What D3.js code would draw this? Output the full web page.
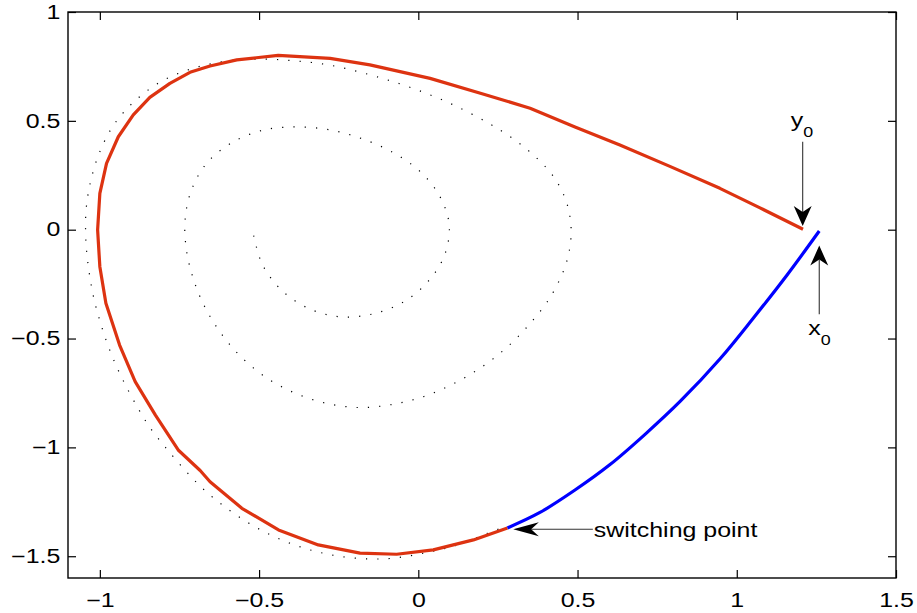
<!DOCTYPE html>
<html>
<head>
<meta charset="utf-8">
<script src="https://cdn.jsdelivr.net/npm/d3@7"></script>
<style>
  body { margin: 0; background: #fff; }
  text { font-family: "Liberation Sans", Arial, sans-serif; fill: #000; }
</style>
</head>
<body>
<div id="chart"></div>
<script>
// axis setup
const xDomain = [-1.1, 1.5];
const yDomain = [-1.6, 1];
const xTicks = [-1, -0.5, 0, 0.5, 1, 1.5];
const yTicks = [-1.5, -1, -0.5, 0, 0.5, 1];

// dotted spiral (free trajectory)
const spiralX = [-0.517, -0.490, -0.432, -0.347, -0.246, -0.140, -0.043, 0.034, 0.083, 0.097,
  0.068, 0.008, -0.075, -0.171, -0.272, -0.380, -0.485, -0.584, -0.663, -0.711,
  -0.732, -0.729, -0.708, -0.673, -0.623, -0.560, -0.482, -0.393, -0.293, -0.186,
  -0.079, 0.024, 0.119, 0.207, 0.286, 0.355, 0.414, 0.457, 0.474, 0.480,
  0.473, 0.453, 0.420, 0.376, 0.325, 0.269, 0.210, 0.118, 0.022, -0.079,
  -0.181, -0.286, -0.391, -0.498, -0.605, -0.710, -0.806, -0.889, -0.955, -0.999,
  -1.028, -1.043, -1.044, -1.035, -1.019, -0.994, -0.962, -0.923, -0.877, -0.843,
  -0.795, -0.733, -0.671, -0.591, -0.504, -0.411, -0.311, -0.204, -0.096, 0.009,
  0.114, 0.217, 0.278];
const spiralY = [-0.027, -0.159, -0.274, -0.360, -0.400, -0.386, -0.329, -0.232, -0.115, 0.022,
  0.152, 0.264, 0.351, 0.415, 0.457, 0.472, 0.458, 0.401, 0.308, 0.187,
  0.052, -0.083, -0.219, -0.347, -0.469, -0.579, -0.675, -0.747, -0.796, -0.817,
  -0.802, -0.763, -0.701, -0.623, -0.530, -0.424, -0.311, -0.185, -0.098, -0.006,
  0.085, 0.172, 0.253, 0.323, 0.388, 0.446, 0.498, 0.568, 0.628, 0.680,
  0.723, 0.758, 0.776, 0.784, 0.774, 0.740, 0.682, 0.593, 0.484, 0.362,
  0.228, 0.094, -0.043, -0.181, -0.314, -0.447, -0.579, -0.704, -0.828, -0.908,
  -0.998, -1.104, -1.197, -1.291, -1.372, -1.436, -1.482, -1.508, -1.511, -1.488,
  -1.452, -1.395, -1.361];

// red trajectory from y0 to the switching point
const redX = [1.208, 1.073, 0.947, 0.790, 0.633, 0.492, 0.351, 0.195, 0.037, -0.152,
  -0.277, -0.440, -0.570, -0.654, -0.717, -0.780, -0.843, -0.895, -0.942, -0.979,
  -1.000, -1.007, -1.000, -0.981, -0.938, -0.889, -0.826, -0.754, -0.685, -0.654,
  -0.554, -0.439, -0.314, -0.183, -0.068, 0.047, 0.173, 0.280];
const redY = [0.002, 0.100, 0.190, 0.291, 0.389, 0.472, 0.558, 0.627, 0.695, 0.757,
  0.787, 0.801, 0.780, 0.752, 0.723, 0.672, 0.608, 0.527, 0.427, 0.305,
  0.167, -0.001, -0.170, -0.338, -0.530, -0.698, -0.851, -1.012, -1.106, -1.158,
  -1.280, -1.379, -1.448, -1.486, -1.491, -1.471, -1.425, -1.370];

// blue trajectory from switching point to x0
const blueX = [0.280, 0.382, 0.492, 0.602, 0.712, 0.822, 0.947, 1.051, 1.158, 1.259];
const blueY = [-1.370, -1.299, -1.196, -1.079, -0.940, -0.789, -0.594, -0.408, -0.208, -0.006];

// annotations: arrow start and tip in data units
const arrowFrom = [[1.207, 0.404], [1.259, -0.389], [0.548, -1.376]];
const arrowTo = [[1.207, 0.017], [1.259, -0.073], [0.298, -1.376]];

const W = 917, H = 613;
const sx = 1.28; // horizontal stretch of the original figure
const fs = 19.5;

const x = d3.scaleLinear().domain(xDomain).range([68, 896]);
const y = d3.scaleLinear().domain(yDomain).range([578, 12]);

const svg = d3.select('#chart').append('svg')
  .attr('width', W)
  .attr('height', H);

const fmt = d => d < 0 ? '\u2212' + Math.abs(d) : String(d);

// axes, ticks pointing inward
const gx = svg.append('g')
  .attr('transform', `translate(0,${y.range()[0]})`)
  .call(d3.axisBottom(x).tickValues(xTicks).tickFormat(fmt)
    .tickSizeInner(-8).tickSizeOuter(0).tickPadding(15));
const gy = svg.append('g')
  .attr('transform', `translate(${x.range()[0]},0)`)
  .call(d3.axisLeft(y).tickValues(yTicks).tickFormat(fmt)
    .tickSizeInner(-8).tickSizeOuter(0).tickPadding(6));
svg.append('g')
  .attr('transform', `translate(0,${y.range()[1]})`)
  .call(d3.axisTop(x).tickValues(xTicks).tickFormat('')
    .tickSizeInner(-8).tickSizeOuter(0));
svg.append('g')
  .attr('transform', `translate(${x.range()[1]},0)`)
  .call(d3.axisRight(y).tickValues(yTicks).tickFormat('')
    .tickSizeInner(-8).tickSizeOuter(0));

svg.selectAll('.domain').remove();
svg.selectAll('.tick line').attr('stroke', '#000').attr('stroke-width', 1.2);
svg.selectAll('.tick text')
  .attr('font-size', fs)
  .attr('font-family', '"Liberation Sans", Arial, sans-serif')
  .attr('fill', '#000');
gx.selectAll('.tick text').attr('transform', `scale(${sx},1)`);
gy.selectAll('.tick text').attr('transform', `scale(${sx},1)`);

svg.append('rect')
  .attr('x', x.range()[0]).attr('y', y.range()[1])
  .attr('width', x.range()[1] - x.range()[0])
  .attr('height', y.range()[0] - y.range()[1])
  .attr('fill', 'none').attr('stroke', '#000').attr('stroke-width', 1.4);

// curves
const spiral = spiralX.map((v, i) => [v, spiralY[i]]);
const red = redX.map((v, i) => [v, redY[i]]);
const blue = blueX.map((v, i) => [v, blueY[i]]);

const smooth = d3.line().x(d => x(d[0])).y(d => y(d[1])).curve(d3.curveCatmullRom);
const straight = d3.line().x(d => x(d[0])).y(d => y(d[1]));

svg.append('path')
  .attr('d', smooth(spiral))
  .attr('fill', 'none')
  .attr('stroke', '#000')
  .attr('stroke-width', 1.2)
  .attr('stroke-dasharray', '1.2,10.1');

svg.append('path')
  .attr('d', straight(red))
  .attr('fill', 'none')
  .attr('stroke', '#dd3311')
  .attr('stroke-width', 3.2)
  .attr('stroke-linejoin', 'round');

svg.append('path')
  .attr('d', smooth(blue))
  .attr('fill', 'none')
  .attr('stroke', '#0000ff')
  .attr('stroke-width', 3.2)
  .attr('stroke-linejoin', 'round');

// arrows (matlab style head with a notch)
function arrow(from, to) {
  const S = [x(from[0]), y(from[1])];
  const T = [x(to[0]), y(to[1])];
  let dx = (T[0] - S[0]) / sx, dy = T[1] - S[1];
  const len = Math.hypot(dx, dy);
  const ux = dx / len, uy = dy / len;
  const nx = -uy, ny = ux;
  const L = 20, Wh = 7, N = 14;
  const p = (a, b) => [T[0] + a * sx, T[1] + b];
  const b1 = p(-ux * L + nx * Wh, -uy * L + ny * Wh);
  const b2 = p(-ux * L - nx * Wh, -uy * L - ny * Wh);
  const nt = p(-ux * N, -uy * N);
  svg.append('line')
    .attr('x1', S[0]).attr('y1', S[1])
    .attr('x2', nt[0]).attr('y2', nt[1])
    .attr('stroke', '#333').attr('stroke-width', 1.1);
  svg.append('path')
    .attr('d', `M${T[0]},${T[1]}L${b1[0]},${b1[1]}L${nt[0]},${nt[1]}L${b2[0]},${b2[1]}Z`)
    .attr('fill', '#000');
}
arrowFrom.forEach((f, i) => arrow(f, arrowTo[i]));

// labels
function label(px, py, main, sub) {
  const t = svg.append('text')
    .attr('transform', `translate(${px},${py}) scale(${sx},1)`)
    .attr('font-size', fs);
  t.append('tspan').text(main);
  if (sub) {
    t.append('tspan').attr('font-size', 14).attr('dy', 10).text(sub);
  }
}
const a0 = arrowFrom[0], a1 = arrowFrom[1], a2 = arrowFrom[2];
label(x(a0[0]) - 12, y(a0[1]) - 15, 'y', '0');
label(x(a1[0]) - 11, y(a1[1]) + 21, 'x', '0');
label(x(a2[0]) + 1, y(a2[1]) + 8, 'switching point');
</script>
</body>
</html>
